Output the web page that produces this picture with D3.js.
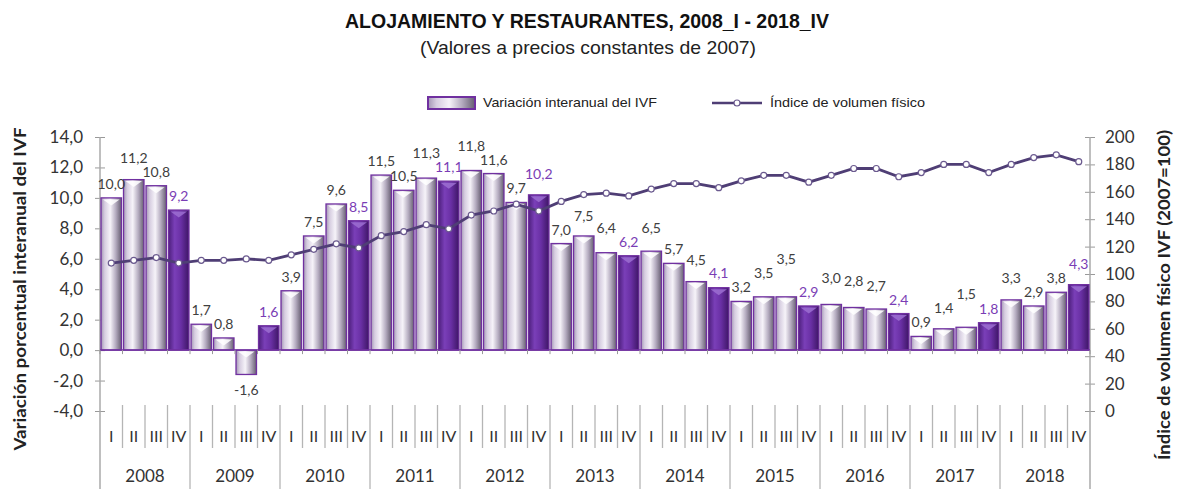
<!DOCTYPE html>
<html>
<head>
<meta charset="utf-8">
<script src="https://cdn.jsdelivr.net/npm/d3@7"></script>
<style>
  body { margin: 0; background: #fff; }
  svg { display: block; }
</style>
</head>
<body>
<svg id="chart" width="1184" height="489"></svg>
<script>
// quarters and years of the category axis
const years = ["2008", "2009", "2010", "2011", "2012", "2013", "2014", "2015", "2016", "2017", "2018"];
const quarters = ["I", "II", "III", "IV"];

// Variación interanual del IVF (%)
const variacion = [
    10.0, 11.2, 10.8, 9.2,
    1.7, 0.8, -1.6, 1.6,
    3.9, 7.5, 9.6, 8.5,
    11.5, 10.5, 11.3, 11.1,
    11.8, 11.6, 9.7, 10.2,
    7.0, 7.5, 6.4, 6.2,
    6.5, 5.7, 4.5, 4.1,
    3.2, 3.5, 3.5, 2.9,
    3.0, 2.8, 2.7, 2.4,
    0.9, 1.4, 1.5, 1.8,
    3.3, 2.9, 3.8, 4.3
];

// Índice de volumen físico (2007=100)
const indice = [
    108, 110, 112, 108,
    110, 110, 111, 110,
    114, 118, 122, 119,
    128, 131, 136, 133,
    143, 146, 151, 146,
    153, 158, 159, 157,
    162, 166, 166, 163,
    168, 172, 172, 167,
    172, 177, 177, 171,
    174, 180, 180, 174,
    180, 185, 187, 182
];

const leftTicks = [-4, -2, 0, 2, 4, 6, 8, 10, 12, 14];
const rightTicks = [0, 20, 40, 60, 80, 100, 120, 140, 160, 180, 200];

const svg = d3.select("#chart");
const fontNum = "Lato, 'Open Sans', sans-serif";
const fontNarrow = "'Liberation Sans Narrow', 'Arial Narrow', 'Liberation Sans', sans-serif";
const purple = "#7030a0";

const comma = d => (d < 0 ? "-" : "") + Math.abs(d).toFixed(1).replace(".", ",");

// categories
const cats = [];
years.forEach(y => quarters.forEach(q => cats.push({ year: y, q: q })));

const plotLeft = 100, plotRight = 1090;
const x = d3.scaleBand()
    .domain(d3.range(cats.length))
    .range([plotLeft, plotRight])
    .paddingInner(0.09)
    .paddingOuter(0.045);
const step = x.step();

const yL = d3.scaleLinear().domain([-4, 14]).range([411, 137]);
const yR = d3.scaleLinear().domain([0, 200]).range([411, 137]);

// gradients
const defs = svg.append("defs");
function grad(id, stops) {
    const g = defs.append("linearGradient").attr("id", id)
        .attr("x1", 0).attr("x2", 1).attr("y1", 0).attr("y2", 0);
    stops.forEach(s => g.append("stop").attr("offset", s[0]).attr("stop-color", s[1]));
}
grad("gLight", [[0, "#a396b4"], [0.18, "#d6cde0"], [0.45, "#f6f3f9"], [0.72, "#b5acc0"], [1, "#655d70"]]);
grad("gDark", [[0, "#4d1f7c"], [0.3, "#7a3fb8"], [0.6, "#6a30a5"], [1, "#3e1665"]]);

// title (narrow face squeezed to the original width)
svg.append("text")
    .attr("x", 345).attr("y", 28)
    .attr("textLength", 484).attr("lengthAdjust", "spacingAndGlyphs")
    .attr("font-family", fontNarrow)
    .attr("font-weight", "bold")
    .attr("font-size", 20)
    .attr("fill", "#111")
    .text("ALOJAMIENTO Y RESTAURANTES, 2008_I - 2018_IV");

svg.append("text")
    .attr("x", 420).attr("y", 54)
    .attr("textLength", 336).attr("lengthAdjust", "spacingAndGlyphs")
    .attr("font-family", fontNarrow)
    .attr("font-size", 19)
    .attr("fill", "#222")
    .text("(Valores a precios constantes de 2007)");

// legend
const leg = svg.append("g");
leg.append("rect")
    .attr("x", 428).attr("y", 97).attr("width", 47).attr("height", 12)
    .attr("fill", "url(#gLight)")
    .attr("stroke", purple).attr("stroke-width", 2);
leg.append("text")
    .attr("x", 483).attr("y", 107)
    .attr("textLength", 174).attr("lengthAdjust", "spacingAndGlyphs")
    .attr("font-family", fontNarrow).attr("font-size", 13).attr("fill", "#222")
    .text("Variación interanual del IVF");
leg.append("line")
    .attr("x1", 712).attr("x2", 762).attr("y1", 103).attr("y2", 103)
    .attr("stroke", "#4f3e75").attr("stroke-width", 2.5);
leg.append("circle")
    .attr("cx", 737).attr("cy", 103).attr("r", 3)
    .attr("fill", "#fff").attr("stroke", "#6b5a8f").attr("stroke-width", 1.2);
leg.append("text")
    .attr("x", 770).attr("y", 107)
    .attr("textLength", 155).attr("lengthAdjust", "spacingAndGlyphs")
    .attr("font-family", fontNarrow).attr("font-size", 13).attr("fill", "#222")
    .text("Índice de volumen físico");

// left axis
const axL = svg.append("g")
    .attr("transform", `translate(${plotLeft},0)`)
    .call(d3.axisLeft(yL).tickValues(leftTicks).tickSize(5).tickSizeOuter(0).tickPadding(12).tickFormat(comma));
axL.select(".domain").remove();
axL.selectAll(".tick line").attr("x1", -5).attr("x2", 5).attr("stroke", "#999");
axL.selectAll(".tick text")
    .attr("font-family", fontNum).attr("font-size", 17).attr("fill", "#333");

// right axis
const axR = svg.append("g")
    .attr("transform", `translate(${plotRight},0)`)
    .call(d3.axisRight(yR).tickValues(rightTicks).tickSize(5).tickSizeOuter(0).tickPadding(10));
axR.select(".domain").remove();
axR.selectAll(".tick line").attr("x1", -5).attr("x2", 5).attr("stroke", "#999");
axR.selectAll(".tick text")
    .attr("font-family", fontNum).attr("font-size", 17).attr("fill", "#333");

// axis lines (they run down through the category area)
svg.append("line")
    .attr("x1", plotLeft).attr("x2", plotLeft).attr("y1", yL(14)).attr("y2", 489)
    .attr("stroke", "#aaa").attr("stroke-width", 1.5);
svg.append("line")
    .attr("x1", plotRight).attr("x2", plotRight).attr("y1", yR(200)).attr("y2", 489)
    .attr("stroke", "#aaa").attr("stroke-width", 1.5);

// axis titles
svg.append("text")
    .attr("transform", `translate(26,${289}) rotate(-90)`)
    .attr("text-anchor", "middle")
    .attr("textLength", 323).attr("lengthAdjust", "spacingAndGlyphs")
    .attr("font-family", fontNum).attr("font-weight", "bold").attr("font-size", 17).attr("fill", "#222")
    .text("Variación porcentual interanual del IVF");
svg.append("text")
    .attr("transform", `translate(1170,${295}) rotate(-90)`)
    .attr("text-anchor", "middle")
    .attr("textLength", 330).attr("lengthAdjust", "spacingAndGlyphs")
    .attr("font-family", fontNum).attr("font-weight", "bold").attr("font-size", 17).attr("fill", "#222")
    .text("Índice de volumen físico IVF (2007=100)");

// bars
const bars = svg.append("g");
bars.selectAll("rect")
    .data(variacion)
    .enter()
    .append("rect")
    .attr("x", (d, i) => x(i))
    .attr("y", d => yL(Math.max(0, d)))
    .attr("width", x.bandwidth())
    .attr("height", d => Math.abs(yL(d) - yL(0)))
    .attr("fill", (d, i) => cats[i].q === "IV" ? "url(#gDark)" : "url(#gLight)")
    .attr("stroke", purple)
    .attr("stroke-width", 1.3);

// little bevel at the top of each bar
bars.selectAll("path.bevel")
    .data(variacion)
    .enter()
    .append("path")
    .attr("class", "bevel")
    .attr("d", (d, i) => {
        const x0 = x(i) + 2, x1 = x(i) + x.bandwidth() - 2, t = yL(Math.max(0, d)) + 1.5;
        const h = Math.min(6, Math.abs(yL(d) - yL(0)) - 2);
        return `M${x0},${t}L${x1},${t}L${(x0 + x1) / 2},${t + h}Z`;
    })
    .attr("fill", (d, i) => cats[i].q === "IV" ? "#9c6fd1" : "#ffffff")
    .attr("opacity", 0.85);

// zero line with small ticks
svg.append("line")
    .attr("x1", plotLeft).attr("x2", plotRight).attr("y1", yL(0)).attr("y2", yL(0))
    .attr("stroke", purple).attr("stroke-width", 1.5);
svg.append("g").selectAll("line")
    .data(d3.range(cats.length + 1))
    .enter().append("line")
    .attr("x1", i => plotLeft + i * step).attr("x2", i => plotLeft + i * step)
    .attr("y1", yL(0)).attr("y2", yL(0) + 4)
    .attr("stroke", "#999");

// index line
const cx = i => x(i) + x.bandwidth() / 2;
svg.append("path")
    .datum(indice)
    .attr("fill", "none")
    .attr("stroke", "#4f3e75")
    .attr("stroke-width", 2.8)
    .attr("d", d3.line().x((d, i) => cx(i)).y(d => yR(d)));
svg.append("g").selectAll("circle")
    .data(indice)
    .enter().append("circle")
    .attr("cx", (d, i) => cx(i))
    .attr("cy", d => yR(d))
    .attr("r", 3)
    .attr("fill", "#fff")
    .attr("stroke", "#6b5a8f")
    .attr("stroke-width", 1.2);

// data labels, nudged upward where neighbours collide
const labels = variacion.map((v, i) => ({
    v: v, i: i,
    x: cx(i),
    y: v >= 0 ? yL(v) - 9 : yL(v) + 21
}));
for (let k = 1; k < labels.length; k++) {
    const a = labels[k - 1], b = labels[k];
    if (a.v < 0 || b.v < 0) continue;
    if (Math.abs(a.y - b.y) < 14) {
        if (b.v >= a.v) b.y = a.y - 14;
        else a.y = b.y - 14;
    }
}
svg.append("g").selectAll("text")
    .data(labels)
    .enter().append("text")
    .attr("x", d => d.x)
    .attr("y", d => d.y)
    .attr("text-anchor", "middle")
    .attr("font-family", fontNum)
    .attr("font-size", 14)
    .attr("fill", d => cats[d.i].q === "IV" ? "#7a3db5" : "#404040")
    .text(d => comma(d.v));

// category axis: quarter labels and separators
const catAxis = svg.append("g");
catAxis.selectAll("line.q")
    .data(d3.range(1, cats.length))
    .enter().append("line")
    .attr("class", "q")
    .attr("x1", i => plotLeft + i * step).attr("x2", i => plotLeft + i * step)
    .attr("y1", 405)
    .attr("y2", i => i % 4 === 0 ? 489 : 448)
    .attr("stroke", "#b5b5b5").attr("stroke-width", 1.3);
catAxis.selectAll("text.q")
    .data(cats)
    .enter().append("text")
    .attr("class", "q")
    .attr("x", (d, i) => cx(i))
    .attr("y", 442)
    .attr("text-anchor", "middle")
    .attr("font-family", fontNum).attr("font-size", 16).attr("fill", "#333")
    .text(d => d.q);
catAxis.selectAll("text.y")
    .data(years)
    .enter().append("text")
    .attr("class", "y")
    .attr("x", (d, i) => plotLeft + (i * 4 + 2) * step)
    .attr("y", 482)
    .attr("text-anchor", "middle")
    .attr("font-family", fontNum).attr("font-size", 17).attr("fill", "#333")
    .text(d => d);
</script>
</body>
</html>
